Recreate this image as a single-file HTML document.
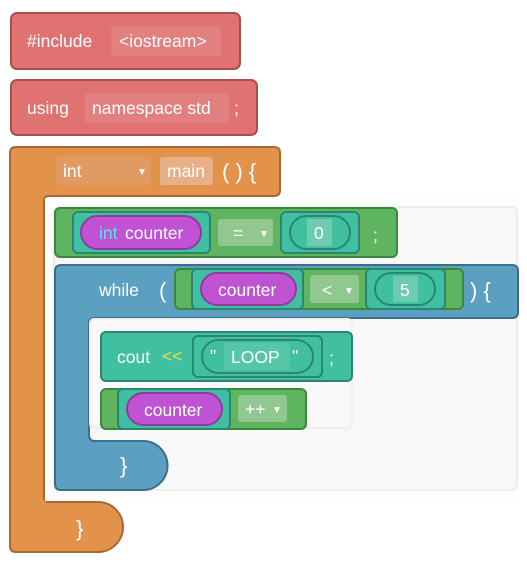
<!DOCTYPE html>
<html><head><meta charset="utf-8"><style>
html,body{margin:0;padding:0;background:#fff}
svg{display:block}
text{font-family:"Liberation Sans",sans-serif;font-size:17.5px;fill:#fff}
</style></head><body>
<svg width="527" height="562" viewBox="0 0 527 562">
<rect x="11" y="13" width="229" height="56" rx="6" fill="#e07272" stroke="#a4504f" stroke-width="2"/>
<rect x="111" y="26" width="110" height="30" rx="3" fill="#e28080"/>
<text x="27" y="47">#include</text>
<text x="119" y="47">&lt;iostream&gt;</text>
<rect x="11" y="80" width="246" height="55" rx="6" fill="#e07272" stroke="#a4504f" stroke-width="2"/>
<rect x="85" y="93" width="144" height="30" rx="3" fill="#e28080"/>
<text x="27" y="114">using</text>
<text x="92" y="114">namespace std</text>
<text x="234" y="114">;</text>
<path d="M16,147 H274 Q280,147 280,153 V190 Q280,196 274,196 H49 Q44,196 44,201 V497 Q44,502 49,502 H98 A25,25 0 0 1 98,552 H16 Q10,552 10,546 V153 Q10,147 16,147 Z" fill="#e2924a" stroke="#a66a32" stroke-width="2"/>
<rect x="45" y="198" width="472" height="303" fill="#fdfdfd"/>
<rect x="54" y="207" width="463" height="283" rx="4" fill="#f8f8f8" stroke="#eeeeee" stroke-width="2"/>
<rect x="56" y="157" width="95" height="28" rx="3" fill="#e09a62"/>
<text x="63" y="177">int</text>
<text x="137" y="175" style="font-size:10px">▼</text>
<rect x="160" y="157" width="53" height="28" rx="3" fill="#e8b088"/>
<text x="167" y="177">main</text>
<text x="222" y="179" style="font-size:22px">( ) {</text>
<rect x="55" y="208" width="342" height="49" rx="5" fill="#5fb55f" stroke="#3c883c" stroke-width="2"/>
<rect x="73" y="212" width="137" height="41" rx="5" fill="#40c0a0" stroke="#2a8670" stroke-width="2"/>
<rect x="81" y="216" width="120" height="33" rx="16.5" fill="#c052d4" stroke="#8f3aa0" stroke-width="2"/>
<text x="99" y="239" style="fill:#4fe8f0">int</text>
<text x="125" y="239">counter</text>
<rect x="218" y="219" width="55" height="27" rx="3" fill="#90c890"/>
<text x="233" y="239">=</text>
<text x="259" y="237" style="font-size:10px">▼</text>
<rect x="281" y="212" width="78" height="41" rx="5" fill="#40c0a0" stroke="#2a8670" stroke-width="2"/>
<rect x="290" y="216" width="60" height="33" rx="16.5" fill="#40c0a0" stroke="#2a8670" stroke-width="2"/>
<rect x="307" y="219" width="25" height="27" fill="#6ecbb2"/>
<text x="314" y="239">0</text>
<text x="373" y="241">;</text>
<path d="M61,265 H512 Q518,265 518,271 V312 Q518,318 512,318 H95 Q89,318 89,324 V435 Q89,441 95,441 H143 A24.5,24.5 0 0 1 143,490 H61 Q55,490 55,484 V271 Q55,265 61,265 Z" fill="#5b9fc1" stroke="#3d6e88" stroke-width="2"/>
<rect x="90" y="319" width="262" height="109" rx="4" fill="#f8f8f8" stroke="#eeeeee" stroke-width="2"/>
<text x="99" y="296">while</text>
<text x="159" y="298" style="font-size:22px">(</text>
<rect x="175" y="269" width="288" height="40" rx="5" fill="#5fb55f" stroke="#3c883c" stroke-width="2"/>
<rect x="192" y="269" width="111" height="40" rx="5" fill="#40c0a0" stroke="#2a8670" stroke-width="2"/>
<rect x="201" y="273" width="95" height="32" rx="16" fill="#c052d4" stroke="#8f3aa0" stroke-width="2"/>
<text x="218" y="296">counter</text>
<rect x="310" y="275" width="49" height="28" rx="3" fill="#90c890"/>
<text x="322" y="296">&lt;</text>
<text x="344" y="294" style="font-size:10px">▼</text>
<rect x="366" y="269" width="79" height="40" rx="5" fill="#40c0a0" stroke="#2a8670" stroke-width="2"/>
<rect x="375" y="273" width="60" height="32" rx="16" fill="#40c0a0" stroke="#2a8670" stroke-width="2"/>
<rect x="393" y="276" width="25" height="26" fill="#6ecbb2"/>
<text x="400" y="296">5</text>
<text x="470" y="298" style="font-size:22px">) {</text>
<rect x="101" y="332" width="251" height="49" rx="5" fill="#40c0a0" stroke="#2a8670" stroke-width="2"/>
<text x="117" y="363">cout</text>
<text x="162" y="362" style="fill:#f0e040">&lt;&lt;</text>
<rect x="193" y="336" width="129" height="41" rx="5" fill="#40c0a0" stroke="#2a8670" stroke-width="2"/>
<rect x="202" y="340" width="111" height="33" rx="16.5" fill="#40c0a0" stroke="#2a8670" stroke-width="2"/>
<rect x="224" y="343" width="66" height="27" fill="#55c6a8"/>
<text x="210" y="362">"</text>
<text x="231" y="363">LOOP</text>
<text x="292" y="362">"</text>
<text x="329" y="364">;</text>
<rect x="101" y="389" width="205" height="40" rx="5" fill="#5fb55f" stroke="#3c883c" stroke-width="2"/>
<rect x="118" y="389" width="112" height="40" rx="5" fill="#40c0a0" stroke="#2a8670" stroke-width="2"/>
<rect x="127" y="393" width="95" height="32" rx="16" fill="#c052d4" stroke="#8f3aa0" stroke-width="2"/>
<text x="144" y="416">counter</text>
<rect x="238" y="395" width="49" height="27" rx="3" fill="#90c890"/>
<text x="245" y="415">++</text>
<text x="272" y="413" style="font-size:10px">▼</text>
<text x="120" y="473" style="font-size:22px">}</text>
<text x="76" y="536" style="font-size:22px">}</text>
</svg>
</body></html>
